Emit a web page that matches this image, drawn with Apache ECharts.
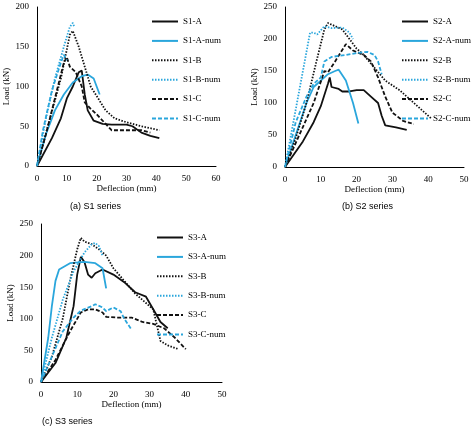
<!DOCTYPE html>
<html><head><meta charset="utf-8">
<script src="https://cdn.jsdelivr.net/npm/echarts@6/dist/echarts.min.js"></script>
<style>html,body{margin:0;background:#fff}#c{width:474px;height:432px}</style>
</head><body><div id="c"></div>
<script>
// deflection (mm), load (kN)
const s1A = [[0,0],[5,35],[8,60],[10,85],[12,100],[14,118],[15,120],[16,90],[17,70],[19,57],[22,53],[25,52],[27,52],[30,52],[32,50],[35,42],[38,38],[41,35]];
const s1ANum = [[0,0],[3,40],[6,70],[9,90],[12,105],[15,113],[17,115],[19,110],[21,90]];
const s1B = [[0,0],[4,55],[8,110],[11,165],[12,170],[14,150],[16,125],[18,100],[20,88],[23,70],[26,60],[30,55],[35,50],[41,45]];
const s1BNum = [[0,0],[3,60],[6,110],[9,150],[11,175],[12,180],[12.5,175]];
const s1C = [[0,0],[3,40],[6,85],[9,130],[10,137],[11,125],[13,118],[15,100],[16,80],[18,72],[20,65],[25,45],[30,45],[35,45],[38,42]];
const s1CNum = [[0,0],[2,45],[5,95],[8,130],[9,140],[10,133]];

const s2A = [[0,0],[5,40],[8,70],[10,95],[12,130],[12.5,140],[13,125],[15,122],[16,118],[18,118],[20,120],[22,120],[24,110],[26,100],[27,80],[28,65],[31,62],[34,58]];
const s2ANum = [[0,0],[3,50],[6,100],[8,125],[10,135],[12,145],[14,150],[15,152],[17,135],[19,100],[20.5,68]];
const s2B = [[0,0],[3,45],[6,100],[9,170],[11,215],[12,225],[14,220],[16,215],[18,200],[20,185],[22,175],[25,155],[28,135],[32,120],[35,105],[38,90],[41,75]];
const s2BNum = [[0,0],[2,60],[4,120],[6,180],[7,210],[8,210],[9,207],[11,220],[13,217],[16,218],[18,210],[19,200]];
const s2C = [[0,0],[4,50],[8,100],[11,150],[12,148],[14,165],[17,192],[19,182],[22,175],[24,165],[26,140],[28,110],[30,85],[33,72],[36,67]];
const s2CNum = [[0,0],[3,70],[6,110],[8,130],[10,140],[11,165],[13,172],[17,175],[20,178],[23,180],[25,175],[26,165],[27,145]];

const s3A = [[0,0],[4,30],[7,70],[9,120],[10,170],[11,198],[11.5,200],[12,190],[13,170],[14,165],[15,172],[17,178],[20,170],[23,158],[26,142],[29,135],[31,115],[33,95],[35,85]];
const s3ANum = [[0,0],[2,70],[3,120],[4,160],[5,178],[8,188],[12,190],[15,188],[17,180],[18,148]];
const s3B = [[0,0],[3,40],[6,100],[8,160],[10,210],[11,228],[12,222],[14,218],[16,210],[18,200],[20,180],[23,160],[26,140],[29,125],[31,115],[33,65],[35,58],[38,52]];
const s3BNum = [[0,0],[3,70],[6,130],[9,175],[12,205],[14,218],[15,220],[16,215],[17,200]];
const s3C = [[0,0],[4,35],[8,80],[11,110],[13,115],[15,115],[17,110],[18,103],[21,102],[25,102],[28,95],[31,92],[34,85],[37,70],[40,52]];
const s3CNum = [[0,0],[3,40],[6,80],[9,102],[11,113],[14,120],[15,123],[17,118],[18,112],[20,118],[22,112],[23,100],[25,83]];

const panels = [
  { prefix: 'S1', data: [s1A, s1ANum, s1B, s1BNum, s1C, s1CNum], xMax: 60, yMax: 200,
    grid: { left: 37, top: 7, width: 179, height: 159 }, legend: { left: 146, top: 12 } },
  { prefix: 'S2', data: [s2A, s2ANum, s2B, s2BNum, s2C, s2CNum], xMax: 50, yMax: 250,
    grid: { left: 285, top: 7, width: 179, height: 160 }, legend: { left: 396, top: 12 } },
  { prefix: 'S3', data: [s3A, s3ANum, s3B, s3BNum, s3C, s3CNum], xMax: 50, yMax: 250,
    grid: { left: 41, top: 224, width: 181, height: 158 }, legend: { left: 151, top: 228 } }
];
const suffixes = ['-A', '-A-num', '-B', '-B-num', '-C', '-C-num'];
const black = '#111', blue = '#2aa6dc';
const font = 'Liberation Serif';

let option = { backgroundColor: '#fff', animation: false, grid: [], xAxis: [], yAxis: [], legend: [], series: [], graphic: [] };
panels.forEach((p, i) => {
  option.grid.push(p.grid);
  const axisCommon = {
    gridIndex: i, min: 0, splitLine: { show: false },
    axisLine: { show: true, lineStyle: { color: '#000' } },
    axisTick: { show: false },
    axisLabel: { fontFamily: font, fontSize: 9, color: '#000' },
    nameTextStyle: { fontFamily: font, fontSize: 9, color: '#000' }
  };
  option.xAxis.push(Object.assign({}, axisCommon, { type: 'value', max: p.xMax, interval: 10,
    name: 'Deflection (mm)', nameLocation: 'middle', nameGap: 12 }));
  option.yAxis.push(Object.assign({}, axisCommon, { type: 'value', max: p.yMax, interval: 50,
    name: 'Load (kN)', nameLocation: 'middle', nameGap: 22 }));
  const names = suffixes.map(s => p.prefix + s);
  option.legend.push({
    left: p.legend.left, top: p.legend.top, orient: 'vertical', data: names,
    itemWidth: 26, itemHeight: 8, itemGap: 10.4, selectedMode: false,
    itemStyle: { opacity: 0 },
    textStyle: { fontFamily: font, fontSize: 9, color: '#000' }
  });
  p.data.forEach((d, k) => {
    const type = k < 2 ? 'solid' : (k < 4 ? [1.5, 1.5] : [4, 2]);
    option.series.push({
      name: names[k], type: 'line', xAxisIndex: i, yAxisIndex: i, data: d,
      symbol: 'none', legendIndex: i,
      lineStyle: { color: k % 2 ? blue : black, width: 1.8, type: type },
      itemStyle: { color: k % 2 ? blue : black }
    });
  });
});
const caps = [['(a) S1 series', 100, 208], ['(b) S2 series', 372, 208], ['(c) S3 series', 72, 423]];
caps.forEach(c => option.graphic.push({ type: 'text', left: c[1] - 30, top: c[2] - 6,
  style: { text: c[0], font: '9px "Liberation Sans"', fill: '#000' } }));

echarts.init(document.getElementById('c')).setOption(option);
</script></body></html>
